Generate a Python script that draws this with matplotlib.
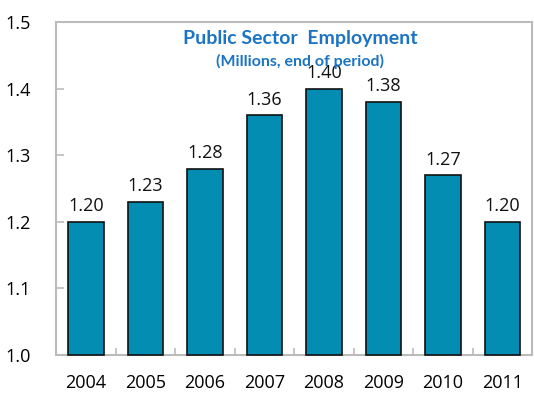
import matplotlib
matplotlib.use("Agg")
import matplotlib.pyplot as plt

years = ["2004", "2005", "2006", "2007", "2008", "2009", "2010", "2011"]
values = [1.20, 1.23, 1.28, 1.36, 1.40, 1.38, 1.27, 1.20]
labels = ["1.20", "1.23", "1.28", "1.36", "1.40", "1.38", "1.27", "1.20"]
yticks = [1.0, 1.1, 1.2, 1.3, 1.4, 1.5]

plt.rcParams['font.family'] = ['Open Sans', 'DejaVu Sans']

fig = plt.figure(figsize=(5.34, 3.94), dpi=100)
ax = fig.add_axes([0.105, 0.099, 0.892, 0.845])

x = list(range(len(years)))
bars = ax.bar(x, [v - 1.0 for v in values], bottom=1.0, width=0.6,
              color="#038DB2", edgecolor="#111111", linewidth=1.2, zorder=3)
for b in bars:
    b.set_clip_on(False)

for xi, v, lab in zip(x, values, labels):
    ax.text(xi, v + 0.01, lab, ha="center", va="bottom", fontsize=13, color="#111111")

ax.set_ylim(1.0, 1.5)
ax.set_xlim(-0.5, len(years) - 0.5)
ax.set_yticks(yticks)
ax.set_yticklabels([f"{t:.1f}" for t in yticks], fontsize=13)
ax.set_xticks(x)
ax.set_xticklabels(years, fontsize=13)
ax.set_xticks([i + 0.5 for i in x[:-1]], minor=True)

for s in ["left", "top", "bottom", "right"]:
    ax.spines[s].set_color("#BBBBBB")
    ax.spines[s].set_linewidth(1.5)

ax.tick_params(axis="y", direction="in", length=6, color="#BBBBBB", width=1.2, pad=18)
ax.tick_params(axis="x", which="major", length=0, pad=14)
ax.tick_params(axis="x", which="minor", direction="in", length=5, color="#BBBBBB", width=1.2)

ax.text(0.513, 0.975, "Public Sector  Employment", transform=ax.transAxes, ha="center", va="top",
        fontsize=14, fontweight="bold", color="#1C74C4", family=["Lato", "DejaVu Sans"])
ax.text(0.513, 0.905, "(Millions, end of period)", transform=ax.transAxes, ha="center", va="top",
        fontsize=11.5, fontweight="bold", color="#1C74C4", family=["Lato", "DejaVu Sans"])

fig.savefig("out.png", dpi=100)
